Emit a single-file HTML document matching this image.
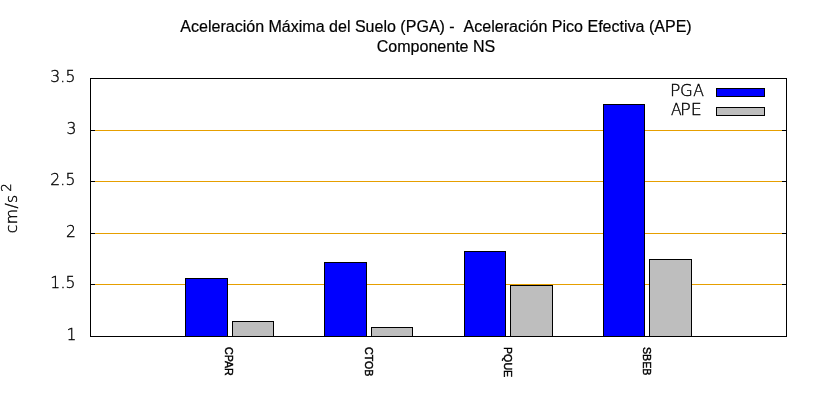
<!DOCTYPE html>
<html lang="es"><head><meta charset="utf-8"><title>PGA - APE</title>
<style>
html,body{margin:0;padding:0;background:#fff;}
#c{position:relative;width:820px;height:400px;overflow:hidden;background:#fff;}
#c div,#c span{position:absolute;box-sizing:border-box;white-space:nowrap;}
.bar{border:1px solid #000;}
.dj{font-family:"DejaVu Sans Light","DejaVu Sans",sans-serif;font-weight:200;font-size:15.6px;letter-spacing:0.2px;line-height:20px;color:#000;-webkit-text-stroke:0.36px #000;}
.dj i{font-style:normal;display:inline-block;position:static !important;}
.yt{right:744.4px;text-align:right;}
.yl{left:12.2px;top:208px;letter-spacing:0.4px;transform:translate(-50%,-50%) rotate(-90deg);}
.yl sup{font-size:13.3px;line-height:0;vertical-align:baseline;position:relative;top:-6px;margin-left:2.7px;}
.xl{font-family:"Liberation Sans",sans-serif;font-size:10.67px;line-height:12px;color:#000;-webkit-text-stroke:0.45px #000;top:347px;transform-origin:0 0;transform:rotate(90deg) translate(0,-50%);}
.title{font-family:"Liberation Sans",sans-serif;font-size:16.04px;-webkit-text-stroke:0.2px #000;line-height:20px;color:#000;left:0;width:872px;text-align:center;}
</style></head><body><div id="c">
<div style="left:95px;top:130px;width:687px;height:1px;background:#e69f00;"></div>
<div style="left:90px;top:130px;width:5px;height:1px;background:#000;"></div>
<div style="left:782px;top:130px;width:5px;height:1px;background:#000;"></div>
<div style="left:95px;top:181px;width:687px;height:1px;background:#e69f00;"></div>
<div style="left:90px;top:181px;width:5px;height:1px;background:#000;"></div>
<div style="left:782px;top:181px;width:5px;height:1px;background:#000;"></div>
<div style="left:95px;top:233px;width:687px;height:1px;background:#e69f00;"></div>
<div style="left:90px;top:233px;width:5px;height:1px;background:#000;"></div>
<div style="left:782px;top:233px;width:5px;height:1px;background:#000;"></div>
<div style="left:95px;top:284px;width:687px;height:1px;background:#e69f00;"></div>
<div style="left:90px;top:284px;width:5px;height:1px;background:#000;"></div>
<div style="left:782px;top:284px;width:5px;height:1px;background:#000;"></div>
<div class="bar" style="left:185px;top:278px;width:43px;height:59px;background:#0000ff"></div>
<div class="bar" style="left:232px;top:321px;width:42px;height:16px;background:#bebebe"></div>
<div class="bar" style="left:324px;top:262px;width:43px;height:75px;background:#0000ff"></div>
<div class="bar" style="left:371px;top:327px;width:42px;height:10px;background:#bebebe"></div>
<div class="bar" style="left:464px;top:251px;width:42px;height:86px;background:#0000ff"></div>
<div class="bar" style="left:510px;top:285px;width:43px;height:52px;background:#bebebe"></div>
<div class="bar" style="left:603px;top:104px;width:42px;height:233px;background:#0000ff"></div>
<div class="bar" style="left:649px;top:259px;width:43px;height:78px;background:#bebebe"></div>
<div style="left:90px;top:78px;width:697px;height:1px;background:#000;"></div>
<div style="left:90px;top:336px;width:697px;height:1px;background:#000;"></div>
<div style="left:90px;top:78px;width:1px;height:259px;background:#000;"></div>
<div style="left:786px;top:78px;width:1px;height:259px;background:#000;"></div>
<div class="bar" style="left:716px;top:88px;width:49px;height:9px;background:#0000ff"></div>
<div class="bar" style="left:716px;top:107px;width:49px;height:9px;background:#bebebe"></div>
<span class="dj" style="left:670.2px;top:81px"><i style="transform:scaleX(1.1);transform-origin:0 50%">P</i><i style="margin-left:0.5px;transform:scaleX(1.06);transform-origin:0 50%">G</i><i style="margin-left:0.6px">A</i></span>
<span class="dj" style="left:671px;top:100px">A<i style="margin-left:-2px;transform:scaleX(1.15);transform-origin:0 50%">P</i><i style="margin-left:2.2px;transform:scaleX(1.12);transform-origin:100% 50%">E</i></span>
<span class="dj yt" style="top:67px;right:744.4px">3.5</span>
<span class="dj yt" style="top:119px;right:743.3px">3</span>
<span class="dj yt" style="top:170px;right:744.4px">2.5</span>
<span class="dj yt" style="top:222px;right:743.8px">2</span>
<span class="dj yt" style="top:273px;right:744.3px">1.5</span>
<span class="dj yt" style="top:325px;right:743.3px">1</span>
<span class="dj yl">cm/s<sup>2</sup></span>
<span class="xl" style="left:229.4px">CPAR</span>
<span class="xl" style="left:368.7px">CTOB</span>
<span class="xl" style="left:508.1px">PQUE</span>
<span class="xl" style="left:646.9px">SBEB</span>
<div class="title" style="top:16px">Aceleración Máxima del Suelo (PGA) - &nbsp;Aceleración Pico Efectiva (APE)</div>
<div class="title" style="top:36px">Componente NS</div>
</div></body></html>
